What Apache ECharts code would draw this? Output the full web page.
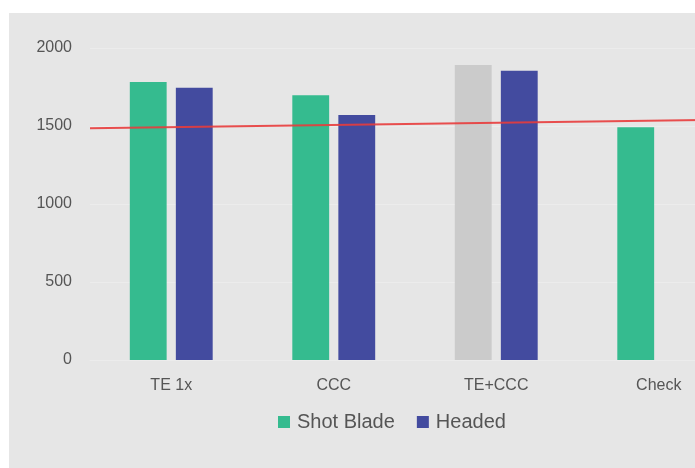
<!DOCTYPE html>
<html>
<head>
<meta charset="utf-8">
<script src="https://cdn.jsdelivr.net/npm/echarts@6/dist/echarts.min.js"></script>
<style>
html,body{margin:0;padding:0;background:#ffffff;overflow:hidden;width:695px;height:468px;}
#c{position:absolute;left:9px;top:13px;width:760px;height:455px;background:#e6e6e6;}
</style>
</head>
<body>
<div id="c"></div>
<script>
const categories = ['TE 1x', 'CCC', 'TE+CCC', 'Check'];
const shotBlade = [1782, 1697, 1891, 1492];
const headed = [1745, 1570, 1854, null];
const yTicks = [0, 500, 1000, 1500, 2000];
const refLine = [1486, 1541];

const chart = echarts.init(document.getElementById('c'));
const shotData = shotBlade.map((v, i) => i === 2 ? {value: v, itemStyle: {color: '#cbcbcb'}} : v);
chart.setOption({
  animation: false,
  grid: {left: 81, right: 29, top: 35, bottom: 108},
  legend: {
    left: 264, top: 394,
    itemWidth: 12, itemHeight: 12, itemGap: 22,
    icon: 'rect',
    textStyle: {color: '#555', fontSize: 20, fontFamily: 'Liberation Sans, Arial', padding: [0, 0, 0, 2]},
    data: ['Shot Blade', 'Headed']
  },
  xAxis: [{
    type: 'category', data: categories,
    axisLine: {show: true, lineStyle: {color: '#ececec'}},
    axisTick: {show: false},
    axisLabel: {color: '#555', fontSize: 16, margin: 18, fontFamily: 'Liberation Sans, Arial'}
  }, {
    type: 'value', min: 0, max: 1, show: false
  }],
  yAxis: {
    type: 'value', min: yTicks[0], max: yTicks[yTicks.length - 1], interval: 500,
    axisLine: {show: false}, axisTick: {show: false},
    splitLine: {lineStyle: {color: '#ececec', width: 1}},
    axisLabel: {color: '#555', fontSize: 16, margin: 18, fontFamily: 'Liberation Sans, Arial',
      formatter: v => String(v)}
  },
  series: [{
    name: 'Shot Blade', type: 'bar', data: shotData,
    itemStyle: {color: '#35bb8f'}, barGap: '25%', barCategoryGap: '49%'
  }, {
    name: 'Headed', type: 'bar', data: headed,
    itemStyle: {color: '#434b9f'}
  }, {
    name: 'ref', type: 'line', xAxisIndex: 1,
    data: [[0, refLine[0]], [1, refLine[1]]],
    symbol: 'none', lineStyle: {color: '#e83c3c', width: 2, opacity: 0.9},
    z: 5
  }]
});
</script>
</body>
</html>
